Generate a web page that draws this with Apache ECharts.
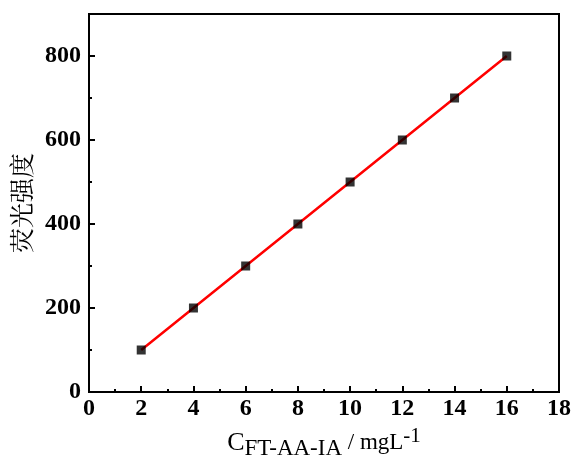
<!DOCTYPE html>
<html><head><meta charset="utf-8">
<script src="https://cdn.jsdelivr.net/npm/echarts@6/dist/echarts.min.js"></script>
<style>html,body{margin:0;padding:0;background:#fff}#c{width:574px;height:458px}</style>
</head><body><div id="c"></div>
<script>
var xValues = [2, 4, 6, 8, 10, 12, 14, 16];
var yValues = [100, 200, 300, 400, 500, 600, 700, 800];
var xTitle = 'C';
var xTitleSub = 'FT-AA-IA';
var xTitleRest = ' / mgL';
var xTitleSup = '-1';
var yTitle = '荧光强度';

var pts = xValues.map(function (x, i) { return [x, yValues[i]]; });
var serif = '"Liberation Serif","Times New Roman",serif';
var chart = echarts.init(document.getElementById('c'));
chart.setOption({
  animation: false,
  grid: { left: 89, right: 15, top: 14, bottom: 66, show: true, borderColor: '#000', borderWidth: 2,
    backgroundColor: 'transparent', containLabel: false, outerBoundsMode: 'none' },
  xAxis: {
    type: 'value', min: 0, max: 18, interval: 2,
    axisLine: { lineStyle: { color: '#000', width: 2 } },
    axisTick: { inside: true, length: 6, lineStyle: { width: 2 } },
    minorTick: { show: true, splitNumber: 2, length: 3, lineStyle: { color: '#000', width: 2 } },
    splitLine: { show: false },
    axisLabel: { color: '#000', fontFamily: serif, fontWeight: 'bold', fontSize: 24, margin: 5 },
    name: '{a|' + xTitle + '}{b|' + xTitleSub + '}{c|' + xTitleRest + '}{d|' + xTitleSup + '}',
    nameLocation: 'middle', nameGap: 33,
    nameTextStyle: {
      rich: {
        a: { fontFamily: serif, fontSize: 26, color: '#000', padding: [0, 0, 2, 0] },
        b: { fontFamily: serif, fontSize: 23, color: '#000', padding: [9, 0, 0, 0] },
        c: { fontFamily: serif, fontSize: 23, color: '#000', padding: [0, 0, 2, 0] },
        d: { fontFamily: serif, fontSize: 21, color: '#000', padding: [0, 0, 16, 0] }
      }
    }
  },
  yAxis: {
    type: 'value', min: 0, max: 900, interval: 200,
    axisLine: { show: true, lineStyle: { color: '#000', width: 2 } },
    axisTick: { show: true, inside: true, length: 6, lineStyle: { width: 2 } },
    minorTick: { show: true, splitNumber: 2, length: 3, lineStyle: { color: '#000', width: 2 } },
    splitLine: { show: false },
    axisLabel: { color: '#000', fontFamily: serif, fontWeight: 'bold', fontSize: 24, margin: 8,
      formatter: function (v) { return v % 200 === 0 ? v : ''; } },
    name: yTitle, nameLocation: 'middle', nameGap: 54, nameRotate: 90,
    nameTextStyle: { color: '#000', fontFamily: '"Noto Serif CJK SC","Noto Sans CJK SC",serif', fontSize: 25 }
  },
  series: [
    { type: 'line', data: pts, symbol: 'none', lineStyle: { color: '#ff0000', width: 2.5 }, z: 2 },
    { type: 'scatter', data: pts, symbol: 'rect', symbolSize: 9, itemStyle: { color: '#000' }, z: 3 }
  ]
});
</script></body></html>
